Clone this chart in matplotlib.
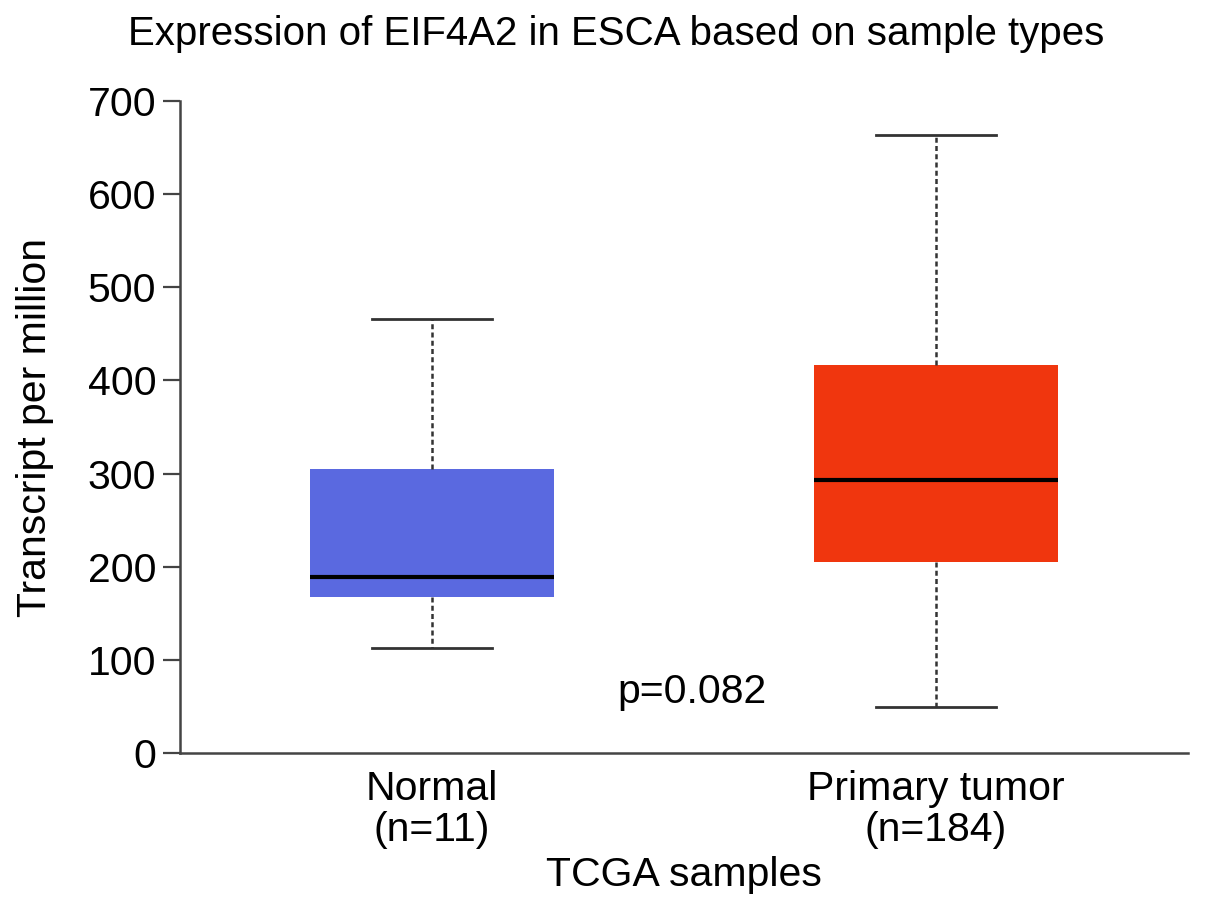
import matplotlib
matplotlib.use('Agg')
import matplotlib.pyplot as plt

plt.rcParams['font.family'] = ['Liberation Sans', 'DejaVu Sans']

groups = ['Normal\n(n=11)', 'Primary tumor\n(n=184)']
whislo = [113, 49]
q1 = [167, 205]
med = [189, 293]
q3 = [305, 417]
whishi = [466, 663]
colors = ['#5A69E0', '#F0360E']
yticks = [0, 100, 200, 300, 400, 500, 600, 700]

fs = 29.5

fig = plt.figure(figsize=(12.05, 9.13), dpi=100)
ax = fig.add_axes([180/1205, 1-753/913, (1188-180)/1205, (753-101)/913])

stats = []
for i in range(len(groups)):
    stats.append({'whislo': whislo[i], 'q1': q1[i], 'med': med[i],
                  'q3': q3[i], 'whishi': whishi[i], 'fliers': []})

bp = ax.bxp(stats, positions=[0, 1], widths=0.485, patch_artist=True,
            showfliers=False,
            boxprops=dict(linewidth=0),
            medianprops=dict(color='black', linewidth=3.0),
            whiskerprops=dict(color='#333333', linewidth=1.8, linestyle=(0, (2.0, 1.3))),
            capprops=dict(color='#333333', linewidth=2.0),
            capwidths=0.24)
for patch, c in zip(bp['boxes'], colors):
    patch.set_facecolor(c)
    patch.set_edgecolor(c)

ax.set_xlim(-0.5, 1.5)
ax.set_ylim(0, 700)
ax.set_yticks(yticks)
ax.set_xticks([0, 1])
ax.set_xticklabels(groups, linespacing=1.12)
ax.tick_params(axis='y', length=12, width=1.6, color='#444444', labelsize=fs, pad=5)
ax.tick_params(axis='x', length=0, labelsize=fs, pad=12)
for s in ['top', 'right']:
    ax.spines[s].set_visible(False)
for s in ['left', 'bottom']:
    ax.spines[s].set_linewidth(1.8)
    ax.spines[s].set_color('#444444')

ax.set_ylabel('Transcript per million', fontsize=fs, labelpad=24)
ax.set_xlabel('TCGA samples', fontsize=fs, labelpad=5)
ax.text(0.516, 65, 'p=0.082', fontsize=fs, ha='center', va='center')
fig.text(616/1205, 1-34/913, 'Expression of EIF4A2 in ESCA based on sample types',
         fontsize=29, ha='center', va='center')

fig.savefig('out.png', dpi=100)
